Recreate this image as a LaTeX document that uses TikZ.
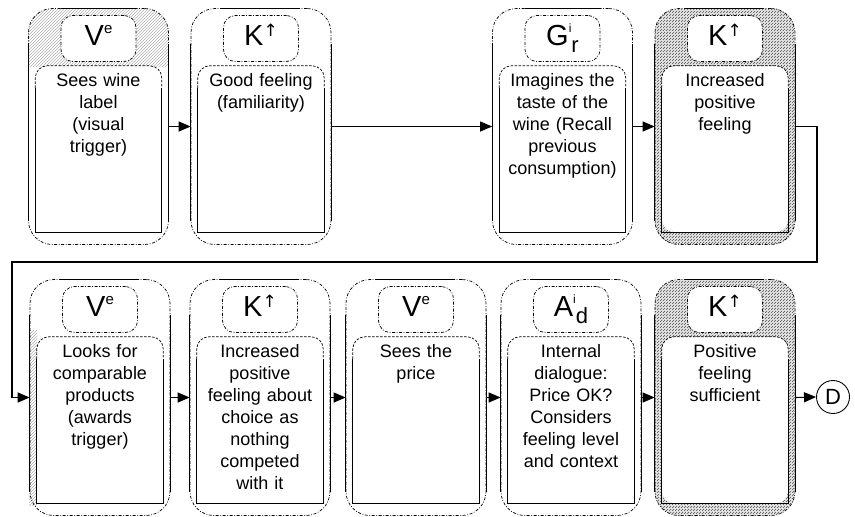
\documentclass[tikz,border=0pt]{standalone}
\usepackage{fontspec}
\setmainfont{Liberation Sans}
\newfontfamily\arrowfont{DejaVu Sans}
\usetikzlibrary{arrows.meta,patterns}

% superscript followed by a lowered subscript, used in the header symbols
\newcommand\supsub[2]{%
  \raisebox{13pt}{\fontsize{12}{12}\selectfont #1}%
  \raisebox{-7pt}{\fontsize{22}{22}\selectfont #2}}
\newcommand\supe{\raisebox{12pt}{\fontsize{15}{15}\selectfont e}}
\newcommand\uparr{\raisebox{8.5pt}{\arrowfont\fontsize{17}{17}\selectfont ↑}}

% one step of the strategy: outer frame, header symbol, description panel
% #1 extra style for the frame, #2 name, #3 x centre, #4 y centre, #5 header, #6 text
\newcommand\flowstep[6][]{%
  \node[outerbox,#1] (#2) at (#3,#4) {};
  \node[headbox] (#2h) at (#3,#4-88) {#5};
  \node[bodybox] (#2b) at (#3,#4+22.5) {};
  \draw[dashedge, rounded corners=12pt]
    ([yshift=-22pt]#2b.north west) -- (#2b.north west) -- (#2b.north east) -- ([yshift=-22pt]#2b.north east);
  \draw[solidedge]
    ([yshift=-22pt]#2b.north west) -- (#2b.south west) -- (#2b.south east) -- ([yshift=-22pt]#2b.north east);
  \draw[solidedge] ([yshift=-36pt]#2.north west) -- ([yshift=24pt]#2.south west);
  \draw[solidedge] ([yshift=-36pt]#2.north east) -- ([yshift=24pt]#2.south east);
  \draw[solidedge] ([xshift=-38pt]#2.north) -- ([xshift=38pt]#2.north);
  \node[bodytext, anchor=base] (#2t) at (#3,#4-40) {#6};
}

\tikzset{
  frameline/.style={line width=0.7pt, dash pattern=on 3pt off 1.6pt on 0.8pt off 1.6pt},
  outerbox/.style={frameline, draw, rounded corners=24pt,
    minimum width=140pt, minimum height=236pt, inner sep=0pt},
  headbox/.style={frameline, draw, fill=white, rounded corners=12pt,
    minimum width=75pt, minimum height=46pt, inner sep=0pt,
    font=\fontsize{29}{29}\selectfont, text height=21pt, text depth=8pt},
  bodybox/.style={fill=white, rounded corners=12pt,
    minimum width=126pt, minimum height=166pt, inner sep=0pt},
  bodytext/.style={align=center, text width=124pt, inner sep=0pt,
    font=\fontsize{18}{22}\selectfont},
  solidedge/.style={line width=0.8pt},
  dashedge/.style={line width=0.7pt, dash pattern=on 2.5pt off 1.5pt},
  ring/.style={fill=gray!18, postaction={pattern=north east lines, pattern color=gray!60!black}},
  lighthatch/.style={pattern=north east lines, pattern color=gray!60},
  flow/.style={line width=1.1pt, -{Triangle[length=12pt,width=10pt]}},
  endnode/.style={circle, draw, line width=0.9pt, minimum size=33pt, inner sep=0pt,
    font=\fontsize{22}{22}\selectfont},
}

\begin{document}
\begin{tikzpicture}[x=1pt, y=-1pt]
\useasboundingbox (0,0) rectangle (855,517);

% light shading round the first header and along the left of the fifth step
\begin{scope}
  \clip (28,6) rectangle (170,66);
  \fill[lighthatch, rounded corners=24pt] (28.5,8.5) rectangle (168.5,244.5);
\end{scope}
\begin{scope}
  \clip (29,330) rectangle (37,505);
  \fill[lighthatch] (29,330) rectangle (37,505);
\end{scope}

% top row
\flowstep{s1}{98.5}{126.5}{V\supe}{Sees wine\\label\\(visual\\trigger)}
\flowstep{s2}{261}{126.5}{K\uparr}{Good feeling\\(familiarity)}
\flowstep{s3}{562.5}{126.5}{G\supsub{i}{r}}{Imagines the\\taste of the\\wine (Recall\\previous\\consumption)}
\flowstep[ring]{s4}{725}{126.5}{K\uparr}{Increased\\positive\\feeling}

% bottom row
\flowstep{s5}{100}{397.5}{V\supe}{Looks for\\comparable\\products\\(awards\\trigger)}
\flowstep{s6}{260}{397.5}{K\uparr}{Increased\\positive\\feeling about\\choice as\\nothing\\competed\\with it}
\flowstep{s7}{416}{397.5}{V\supe}{Sees the\\price}
\flowstep{s8}{571}{397.5}{A\supsub{i}{d}}{Internal\\dialogue:\\Price OK?\\Considers\\feeling level\\and context}
\flowstep[ring]{s9}{725}{397.5}{K\uparr}{Positive\\feeling\\sufficient}

\node[endnode] (d) at (833,397) {D};

% connectors
\coordinate (tr) at (817,262);
\coordinate (tl) at (12,262);
\draw[flow] (s1.east) -- (s2.west);
\draw[flow] (s2.east) -- (s3.west);
\draw[flow] (s3.east) -- (s4.west);
\draw[flow, line width=1.3pt] (s4.east) -| (tr) -- (tl) |- (s5.west);
\draw[flow] (s5.east) -- (s6.west);
\draw[flow] (s6.east) -- (s7.west);
\draw[flow] (s7.east) -- (s8.west);
\draw[flow] (s8.east) -- (s9.west);
\draw[flow] (s9.east) -- (d.west);
\end{tikzpicture}
\end{document}
